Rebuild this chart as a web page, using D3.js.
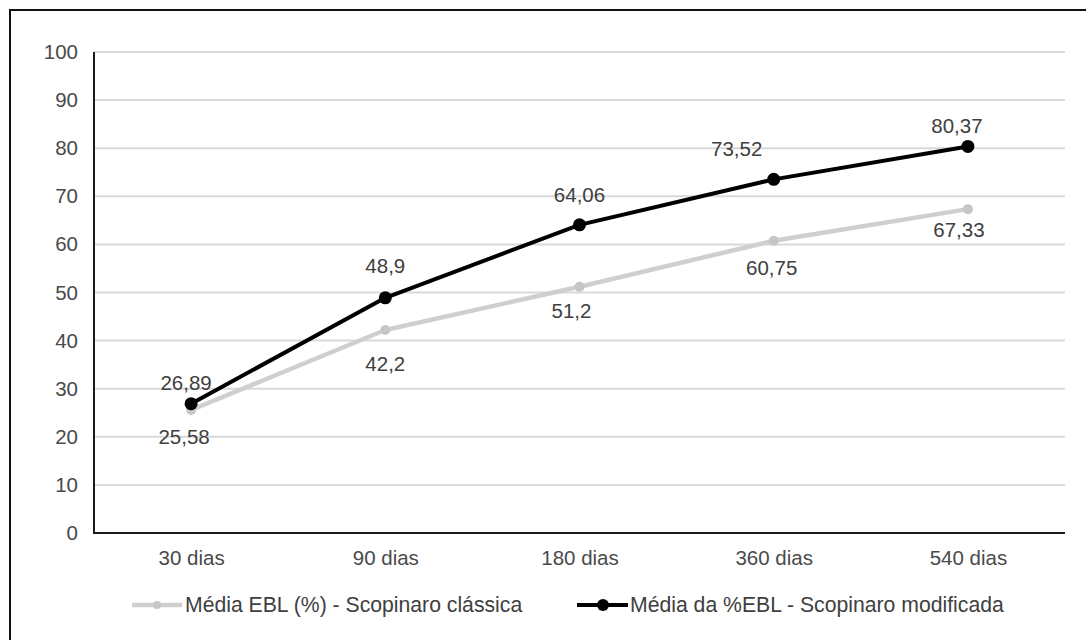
<!DOCTYPE html>
<html>
<head>
<meta charset="utf-8">
<script src="https://cdn.jsdelivr.net/npm/d3@7"></script>
<style>
  html, body { margin: 0; padding: 0; background: #fff; }
  text { font-family: "Liberation Sans", Arial, sans-serif; }
</style>
</head>
<body>
<svg id="chart" width="1086" height="640"></svg>
<script>
const categories = ["30 dias", "90 dias", "180 dias", "360 dias", "540 dias"];
const classicaValues = [25.58, 42.2, 51.2, 60.75, 67.33];
const modificadaValues = [26.89, 48.9, 64.06, 73.52, 80.37];
const classicaLabels = ["25,58", "42,2", "51,2", "60,75", "67,33"];
const modificadaLabels = ["26,89", "48,9", "64,06", "73,52", "80,37"];
const yTicks = [0, 10, 20, 30, 40, 50, 60, 70, 80, 90, 100];
const seriesNames = ["Média EBL (%) - Scopinaro clássica", "Média da %EBL - Scopinaro modificada"];

// label nudges (layout only)
const modNudgeX = [-5, 0, 0, -37, -11];
const modNudgeY = [-21, -32, -30, -31, -21];
const claNudgeX = [-7, 0, -8, -2, -9];
const claNudgeY = [27, 34, 24, 27, 21];

(function () {
const svg = d3.select("#chart");
const mLeft = 94, mRight = 1065, mTop = 52, mBottom = 533;
const fs = 20.5, legFs = 21.2;

// outer frame
svg.append("rect").attr("x", 10).attr("y", 10).attr("width", 1100).attr("height", 700)
  .attr("fill", "none").attr("stroke", "#111").attr("stroke-width", 2);

const x = d3.scalePoint().domain(categories).range([mLeft, mRight]).padding(0.5);
const y = d3.scaleLinear().domain([0, 100]).range([mBottom, mTop]);

// gridlines
svg.append("g").selectAll("line").data(yTicks.filter(d => d > 0)).join("line")
  .attr("x1", mLeft).attr("x2", mRight)
  .attr("y1", d => y(d)).attr("y2", d => y(d))
  .attr("stroke", "#d9d9d9").attr("stroke-width", 2);

// y axis labels
const yAxis = svg.append("g").attr("transform", `translate(${mLeft},0)`)
  .call(d3.axisLeft(y).tickValues(yTicks).tickSize(0).tickPadding(16));
yAxis.select(".domain").remove();
yAxis.selectAll("text").attr("font-size", fs).attr("fill", "#4a4a4a")
  .attr("font-family", "Liberation Sans, Arial, sans-serif");

// x axis labels
const xAxis = svg.append("g").attr("transform", `translate(0,${mBottom})`)
  .call(d3.axisBottom(x).tickSize(0).tickPadding(17));
xAxis.select(".domain").remove();
xAxis.selectAll("text").attr("font-size", fs).attr("fill", "#4a4a4a")
  .attr("font-family", "Liberation Sans, Arial, sans-serif");

// axis lines
svg.append("line").attr("x1", mLeft).attr("x2", mLeft).attr("y1", mTop).attr("y2", mBottom)
  .attr("stroke", "#1a1a1a").attr("stroke-width", 2);
svg.append("line").attr("x1", mLeft - 1).attr("x2", mRight).attr("y1", mBottom).attr("y2", mBottom)
  .attr("stroke", "#1a1a1a").attr("stroke-width", 2);

const line = d3.line().x((d, i) => x(categories[i])).y(d => y(d));

// classica series
svg.append("path").datum(classicaValues).attr("d", line)
  .attr("fill", "none").attr("stroke", "#cfcfcf").attr("stroke-width", 4.5)
  .attr("stroke-linejoin", "round");
svg.append("g").selectAll("circle").data(classicaValues).join("circle")
  .attr("cx", (d, i) => x(categories[i])).attr("cy", d => y(d)).attr("r", 5)
  .attr("fill", "#c6c6c6");

// modificada series
svg.append("path").datum(modificadaValues).attr("d", line)
  .attr("fill", "none").attr("stroke", "#000").attr("stroke-width", 4)
  .attr("stroke-linejoin", "round");
svg.append("g").selectAll("circle").data(modificadaValues).join("circle")
  .attr("cx", (d, i) => x(categories[i])).attr("cy", d => y(d)).attr("r", 6.5)
  .attr("fill", "#000");

// data labels
svg.append("g").selectAll("text").data(modificadaValues).join("text")
  .attr("x", (d, i) => x(categories[i]) + modNudgeX[i])
  .attr("y", (d, i) => y(d) + modNudgeY[i])
  .attr("dy", "0.35em").attr("text-anchor", "middle")
  .attr("font-size", fs).attr("fill", "#404040")
  .text((d, i) => modificadaLabels[i]);
svg.append("g").selectAll("text").data(classicaValues).join("text")
  .attr("x", (d, i) => x(categories[i]) + claNudgeX[i])
  .attr("y", (d, i) => y(d) + claNudgeY[i])
  .attr("dy", "0.35em").attr("text-anchor", "middle")
  .attr("font-size", fs).attr("fill", "#404040")
  .text((d, i) => classicaLabels[i]);

// legend
const ly = 605;
const leg1 = svg.append("g");
leg1.append("line").attr("x1", 132).attr("x2", 182).attr("y1", ly).attr("y2", ly)
  .attr("stroke", "#cfcfcf").attr("stroke-width", 4.5);
leg1.append("circle").attr("cx", 157).attr("cy", ly).attr("r", 4).attr("fill", "#c6c6c6");
leg1.append("text").attr("x", 185).attr("y", ly).attr("dy", "0.35em")
  .attr("font-size", legFs).attr("fill", "#404040").text(seriesNames[0]);

const leg2 = svg.append("g");
leg2.append("line").attr("x1", 577).attr("x2", 628).attr("y1", ly).attr("y2", ly)
  .attr("stroke", "#000").attr("stroke-width", 4);
leg2.append("circle").attr("cx", 603).attr("cy", ly).attr("r", 6).attr("fill", "#000");
leg2.append("text").attr("x", 630).attr("y", ly).attr("dy", "0.35em")
  .attr("font-size", legFs).attr("fill", "#404040").text(seriesNames[1]);
})();
</script>
</body>
</html>
